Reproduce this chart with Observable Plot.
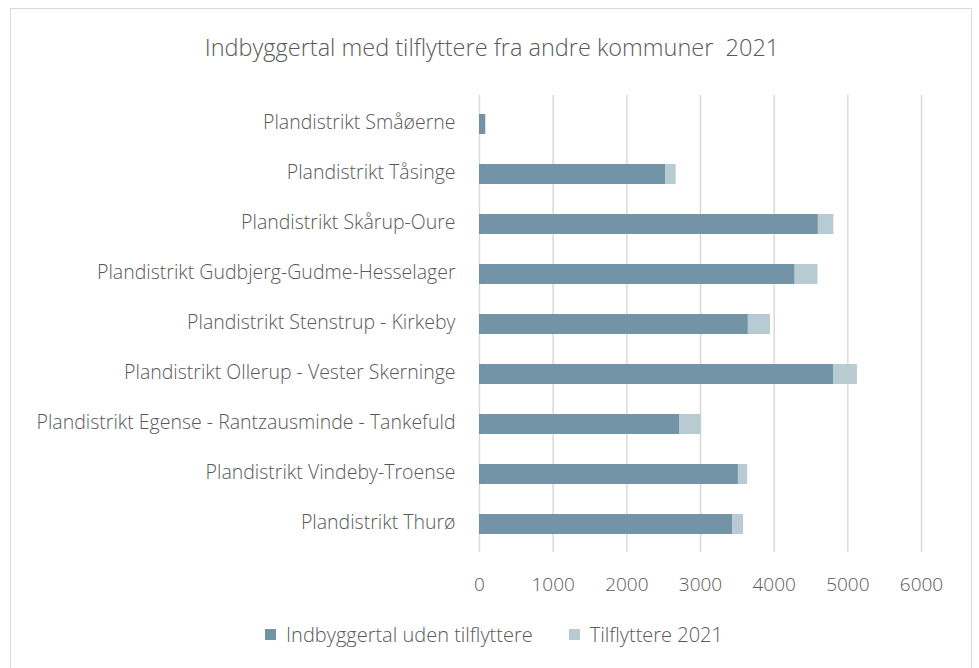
<!DOCTYPE html>
<html>
<head>
<meta charset="utf-8">
<script src="https://cdn.jsdelivr.net/npm/d3@7"></script>
<script src="https://cdn.jsdelivr.net/npm/@observablehq/plot@0.6"></script>
<style>
  html, body { margin: 0; padding: 0; background: #fff; }
  #wrap { position: relative; width: 979px; height: 668px; overflow: hidden; font-family: "Open Sans", sans-serif; font-weight: 300; color: #595959; }
  #frame { position: absolute; left: 10px; top: 8px; width: 962px; height: 700px; border: 1px solid #d9d9d9; box-sizing: border-box; }
  #title { position: absolute; left: 0; width: 984px; top: 31px; text-align: center; font-size: 23.5px; white-space: pre; }
  #chart { position: absolute; left: 0; top: 0; }
  #legend { position: absolute; left: 0; width: 988px; top: 621px; display: flex; justify-content: center; gap: 36px; font-size: 20px; }
  #legend .item { display: flex; align-items: center; }
  #legend .sw { width: 11px; height: 11px; margin-right: 10px; display: inline-block; }
</style>
</head>
<body>
<div id="wrap">
  <div id="frame"></div>
  <div id="title">Indbyggertal med tilflyttere fra andre kommuner  2021</div>
  <div id="chart"></div>
  <div id="legend"></div>
</div>
<script>
const districts = [
  "Plandistrikt Småøerne",
  "Plandistrikt Tåsinge",
  "Plandistrikt Skårup-Oure",
  "Plandistrikt Gudbjerg-Gudme-Hesselager",
  "Plandistrikt Stenstrup - Kirkeby",
  "Plandistrikt Ollerup - Vester Skerninge",
  "Plandistrikt Egense - Rantzausminde - Tankefuld",
  "Plandistrikt Vindeby-Troense",
  "Plandistrikt Thurø"
];
const seriesNames = ["Indbyggertal uden tilflyttere", "Tilflyttere 2021"];
const withoutMovers = [85, 2525, 4600, 4285, 3650, 4805, 2715, 3515, 3435];
const movers2021 = [0, 145, 210, 310, 300, 325, 295, 125, 150];
const xTicks = [0, 1000, 2000, 3000, 4000, 5000, 6000];
const colors = ["#7294a6", "#b8cbd3"];

const data = [];
districts.forEach((d, i) => {
  data.push({district: d, series: seriesNames[0], value: withoutMovers[i]});
  data.push({district: d, series: seriesNames[1], value: movers2021[i]});
});

const plot = Plot.plot({
  width: 979,
  height: 600,
  marginLeft: 479,
  marginRight: 58,
  marginTop: 95,
  marginBottom: 48,
  style: {fontFamily: "'Open Sans', sans-serif", fontWeight: 300, fontSize: "19.5px", color: "#595959", background: "transparent"},
  x: {domain: [0, 6000], ticks: xTicks, label: null},
  y: {domain: districts, paddingInner: 0.6, paddingOuter: 0.3, label: null},
  color: {domain: seriesNames, range: colors},
  marks: [
    Plot.gridX(xTicks, {stroke: "#d9d9d9", strokeOpacity: 1, strokeWidth: 1.5}),
    Plot.barX(data, {x: "value", y: "district", fill: "series", order: seriesNames}),
    Plot.axisX(xTicks, {tickSize: 0, tickPadding: 25, tickFormat: d => String(d), fill: "#595959", fontSize: "19px"}),
    Plot.axisY({tickSize: 0, tickPadding: 24, fill: "#595959", fontSize: "19.5px", dy: -2})
  ]
});
document.getElementById("chart").appendChild(plot);

const legend = document.getElementById("legend");
seriesNames.forEach((s, i) => {
  const item = document.createElement("div");
  item.className = "item";
  const sw = document.createElement("span");
  sw.className = "sw";
  sw.style.background = colors[i];
  item.appendChild(sw);
  item.appendChild(document.createTextNode(s));
  legend.appendChild(item);
});
</script>
</body>
</html>
